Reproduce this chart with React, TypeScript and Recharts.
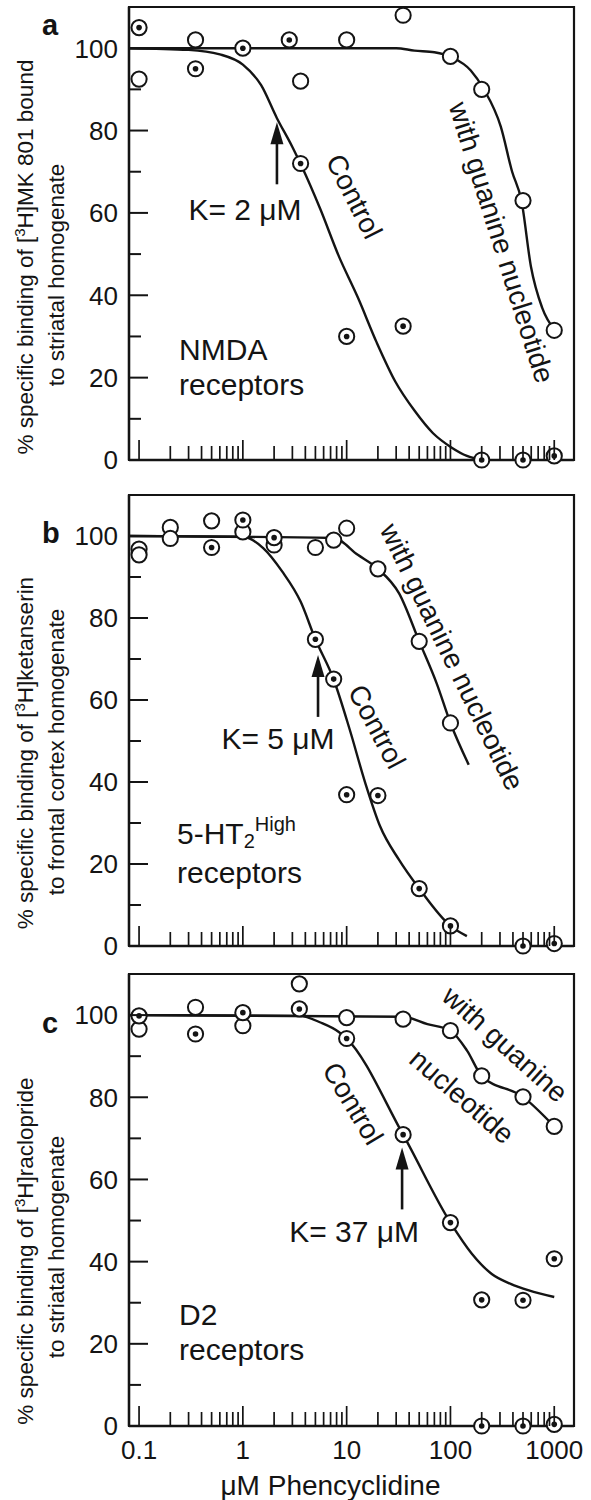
import React from 'react';
import { ComposedChart, Line, Scatter, XAxis, YAxis, ReferenceArea, ReferenceDot } from 'recharts';

const FONT = '"Liberation Sans", Arial, Helvetica, sans-serif';
const INK = '#141414';

// ---------- axes ----------
const X_DOMAIN: [number, number] = [0.08, 1550];
const X_TICKS = [0.1, 0.2, 0.3, 0.4, 0.5, 0.6, 0.7, 0.8, 0.9, 1, 2, 3, 4, 5, 6, 7, 8, 9, 10, 20, 30, 40, 50, 60, 70, 80, 90, 100, 200, 300, 400, 500, 600, 700, 800, 900, 1000];
const X_MAJOR = [0.1, 1, 10, 100, 1000];
const X_MAJOR_LABELS = ['0.1', '1', '10', '100', '1000'];
const Y_DOMAIN: [number, number] = [0, 110];
const Y_TICKS = [0, 10, 20, 30, 40, 50, 60, 70, 80, 90, 100];
const Y_LABELED = [0, 20, 40, 60, 80, 100];

// ---------- panel a : NMDA ----------
const aControlPts = [
  { x: 0.1, y: 105 }, { x: 0.35, y: 95 }, { x: 1, y: 100 }, { x: 2.8, y: 102 }, { x: 3.6, y: 72 },
  { x: 10, y: 30 }, { x: 35, y: 32.5 }, { x: 200, y: 0 }, { x: 500, y: 0 }, { x: 1000, y: 1 },
];
const aGuaninePts = [
  { x: 0.1, y: 92.5 }, { x: 0.35, y: 102 }, { x: 3.6, y: 92 }, { x: 10, y: 102 }, { x: 35, y: 108 },
  { x: 100, y: 98 }, { x: 200, y: 90 }, { x: 500, y: 63 }, { x: 1000, y: 31.5 },
];
const aControlCurve = [
  { x: 0.08, y: 100 }, { x: 0.3, y: 99.6 }, { x: 0.6, y: 98.5 }, { x: 1, y: 96 }, { x: 1.5, y: 91 },
  { x: 2.13, y: 83 }, { x: 3, y: 76 }, { x: 3.66, y: 71.5 }, { x: 5.56, y: 61 }, { x: 8.4, y: 49.5 },
  { x: 12.8, y: 39.5 }, { x: 19.5, y: 28.5 }, { x: 29.5, y: 19 }, { x: 45, y: 12 }, { x: 68, y: 6.5 },
  { x: 103, y: 3 }, { x: 144, y: 1 }, { x: 201, y: 0 },
];
const aGuanineCurve = [
  { x: 0.08, y: 100 }, { x: 30, y: 100 }, { x: 45, y: 99.4 }, { x: 70, y: 99 }, { x: 103, y: 97.8 },
  { x: 157, y: 94.6 }, { x: 210, y: 90 }, { x: 305, y: 81 }, { x: 393, y: 70 }, { x: 483, y: 63 },
  { x: 596, y: 47 }, { x: 764, y: 37 }, { x: 1020, y: 31.4 },
];

// ---------- panel b : 5-HT2 High ----------
const bControlPts = [
  { x: 0.5, y: 97.2 }, { x: 1, y: 103.9 }, { x: 2, y: 99.6 }, { x: 5, y: 74.8 }, { x: 7.5, y: 65.1 },
  { x: 10, y: 36.9 }, { x: 20, y: 36.7 }, { x: 50, y: 14 }, { x: 100, y: 4.9 }, { x: 500, y: 0 }, { x: 1000, y: 0.6 },
];
const bGuaninePts = [
  { x: 0.1, y: 96.8 }, { x: 0.1, y: 95.4 }, { x: 0.2, y: 102.1 }, { x: 0.2, y: 99.4 }, { x: 0.5, y: 103.7 },
  { x: 1, y: 101 }, { x: 2, y: 97.8 }, { x: 5, y: 97.2 }, { x: 7.5, y: 99 }, { x: 10, y: 101.9 },
  { x: 20, y: 92 }, { x: 50, y: 74.3 }, { x: 100, y: 54.4 },
];
const bControlCurve = [
  { x: 0.08, y: 100 }, { x: 1, y: 99.8 }, { x: 1.58, y: 97 }, { x: 2.4, y: 91.3 }, { x: 3.6, y: 84 },
  { x: 5, y: 74.8 }, { x: 7.5, y: 65 }, { x: 10.7, y: 52.8 }, { x: 15.1, y: 39.8 }, { x: 21, y: 29.2 },
  { x: 32, y: 21 }, { x: 50, y: 14 }, { x: 100, y: 4.9 }, { x: 144, y: 2.4 },
];
const bGuanineCurve = [
  { x: 0.08, y: 100 }, { x: 7.5, y: 99.5 }, { x: 12.8, y: 95.4 }, { x: 20, y: 92 }, { x: 32, y: 86 },
  { x: 50, y: 74.3 }, { x: 73.8, y: 64 }, { x: 100, y: 54.4 }, { x: 150, y: 44.2 },
];

// ---------- panel c : D2 ----------
const cControlPts = [
  { x: 0.1, y: 99.8 }, { x: 0.35, y: 95.4 }, { x: 1, y: 100.6 }, { x: 3.5, y: 101.5 }, { x: 10, y: 94.3 },
  { x: 35, y: 70.9 }, { x: 100, y: 49.5 }, { x: 200, y: 30.7 }, { x: 500, y: 30.6 }, { x: 1000, y: 40.7 },
  { x: 200, y: 0 }, { x: 500, y: 0 }, { x: 1000, y: 0.4 },
];
const cGuaninePts = [
  { x: 0.1, y: 96.6 }, { x: 0.35, y: 101.9 }, { x: 1, y: 97.4 }, { x: 3.5, y: 107.6 }, { x: 10, y: 99.4 },
  { x: 35, y: 99 }, { x: 100, y: 96.2 }, { x: 200, y: 85.2 }, { x: 500, y: 80.1 }, { x: 1000, y: 72.9 },
];
const cControlCurve = [
  { x: 0.08, y: 100 }, { x: 3.5, y: 99.8 }, { x: 5.6, y: 98.2 }, { x: 8.4, y: 95.9 }, { x: 10, y: 94.3 },
  { x: 35, y: 70.9 }, { x: 100, y: 49.5 }, { x: 160, y: 42 }, { x: 250, y: 37 }, { x: 380, y: 34.6 },
  { x: 570, y: 33 }, { x: 1000, y: 31.4 },
];
const cGuanineCurve = [
  { x: 0.08, y: 100 }, { x: 35, y: 99.6 }, { x: 60, y: 97.8 }, { x: 100, y: 96.2 }, { x: 145, y: 91.3 },
  { x: 200, y: 85.2 }, { x: 500, y: 80.1 }, { x: 1000, y: 72.9 },
];

// ---------- rendering helpers ----------
const makeXTick = (showLabel: boolean) => (p: any) => {
  const v = p.payload.value;
  const idx = X_MAJOR.findIndex((m) => Math.abs(m - v) < 1e-9);
  const len = idx >= 0 ? 20 : 14;
  return (
    <g>
      <line x1={p.x} y1={p.y} x2={p.x} y2={p.y - len} stroke={INK} strokeWidth={1.7} />
      {showLabel && idx >= 0 && (
        <text x={p.x} y={p.y + 33} textAnchor="middle" fontSize={26} fontFamily={FONT} fill={INK}>
          {X_MAJOR_LABELS[idx]}
        </text>
      )}
    </g>
  );
};

const YTick = (p: any) => {
  const v = p.payload.value;
  const labeled = Y_LABELED.indexOf(v) >= 0;
  const len = labeled ? 19 : 12;
  return (
    <g>
      {v !== 0 && <line x1={p.x} y1={p.y} x2={p.x + len} y2={p.y} stroke={INK} strokeWidth={2} />}
      {labeled && (
        <text x={p.x - 11} y={p.y} dy="0.36em" textAnchor="end" fontSize={26} fontFamily={FONT} fill={INK}>
          {v}
        </text>
      )}
    </g>
  );
};

const Marker = (filledDot: boolean) => (p: any) => (
  <g>
    <circle cx={p.cx} cy={p.cy} r={7.6} fill="#fff" stroke={INK} strokeWidth={2} />
    {filledDot && <circle cx={p.cx} cy={p.cy} r={2.8} fill={INK} />}
  </g>
);

const textShape = (content: React.ReactNode, angle = 0, anchor: 'start' | 'middle' = 'middle', size = 30, baseline: 'central' | 'auto' = 'central') => (p: any) => (
  <text
    x={p.cx}
    y={p.cy}
    transform={angle ? `rotate(${angle} ${p.cx} ${p.cy})` : undefined}
    textAnchor={anchor}
    dominantBaseline={baseline}
    fontSize={size}
    fontFamily={FONT}
    fill={INK}
  >
    {content}
  </text>
);

const arrowShape = (p: any) => (
  <g>
    <line x1={p.cx} y1={p.cy + 18} x2={p.cx} y2={p.cy + 62} stroke={INK} strokeWidth={2.6} />
    <polygon points={`${p.cx},${p.cy} ${p.cx - 6.5},${p.cy + 22} ${p.cx + 6.5},${p.cy + 22}`} fill={INK} />
  </g>
);

type Ann = { x: number; y: number; shape: any };

type PanelProps = {
  height: number;
  top: number;
  xAxisH: number;
  letter: string;
  letterBaseline: number;
  yLab1: React.ReactNode;
  yLab2: React.ReactNode;
  yLab1C: number;
  yLab2C: number;
  showX: boolean;
  controlCurve: any[];
  guanineCurve: any[];
  controlPts: any[];
  guaninePts: any[];
  anns: Ann[];
};

const Panel = (P: PanelProps) => (
  <ComposedChart width={591} height={P.height} margin={{ top: P.top, right: 17, bottom: 0, left: 0 }}>
    <XAxis
      dataKey="x"
      type="number"
      scale="log"
      domain={X_DOMAIN}
      ticks={X_TICKS}
      interval={0}
      height={P.xAxisH}
      tickSize={0}
      tickMargin={0}
      tickLine={false}
      axisLine={{ stroke: INK, strokeWidth: 2.4 }}
      tick={makeXTick(P.showX)}
      label={
        P.showX
          ? {
              content: (lp: any) => {
                const vb = lp.viewBox || { x: 129, y: 466, width: 445, height: 74 };
                return (
                  <text x={vb.x + vb.width / 2 - 21} y={vb.y + 69} textAnchor="middle" fontSize={28} fontFamily={FONT} fill={INK}>
                    μM Phencyclidine
                  </text>
                );
              },
            }
          : undefined
      }
    />
    <YAxis
      type="number"
      domain={Y_DOMAIN}
      ticks={Y_TICKS}
      interval={0}
      width={129}
      tickSize={0}
      tickMargin={0}
      tickLine={false}
      axisLine={{ stroke: INK, strokeWidth: 2.4 }}
      tick={YTick}
      label={{
        content: () => (
          <g fontFamily={FONT} fill={INK}>
            <text x={42} y={P.letterBaseline} fontSize={29} fontWeight="bold">{P.letter}</text>
            <text x={0} y={0} transform={`translate(33 ${P.yLab1C}) rotate(-90)`} textAnchor="middle" fontSize={22.5}>
              {P.yLab1}
            </text>
            <text x={0} y={0} transform={`translate(64 ${P.yLab2C}) rotate(-90)`} textAnchor="middle" fontSize={22.5}>
              {P.yLab2}
            </text>
          </g>
        ),
      }}
    />
    <ReferenceArea x1={X_DOMAIN[0]} x2={X_DOMAIN[1]} y1={Y_DOMAIN[0]} y2={Y_DOMAIN[1]} fill="none" stroke={INK} strokeWidth={2.2} ifOverflow="visible" />
    <Line data={P.controlCurve} dataKey="y" type="monotone" stroke={INK} strokeWidth={2.4} dot={false} activeDot={false} isAnimationActive={false} />
    <Line data={P.guanineCurve} dataKey="y" type="monotone" stroke={INK} strokeWidth={2.4} dot={false} activeDot={false} isAnimationActive={false} />
    <Scatter data={P.guaninePts} dataKey="y" shape={Marker(false)} isAnimationActive={false} />
    <Scatter data={P.controlPts} dataKey="y" shape={Marker(true)} isAnimationActive={false} />
    {P.anns.map((a, i) => (
      <ReferenceDot key={i} x={a.x} y={a.y} r={0} shape={a.shape} ifOverflow="visible" />
    ))}
  </ComposedChart>
);

const sup3 = (
  <>
    <tspan>% specific binding of [</tspan>
    <tspan fontSize={15} dy={-8}>3</tspan>
    <tspan dy={8}>H]</tspan>
  </>
);

export default function App() {
  return (
    <div style={{ position: 'absolute', left: 0, top: 0, width: 591, height: 1500, background: '#fff' }}>
      <Panel
        height={490}
        top={7}
        xAxisH={30}
        letter="a"
        letterBaseline={35}
        yLab1={<>{sup3}<tspan>MK 801 bound</tspan></>}
        yLab2="to striatal homogenate"
        yLab1C={257}
        yLab2C={275}
        showX={false}
        controlCurve={aControlCurve}
        guanineCurve={aGuanineCurve}
        controlPts={aControlPts}
        guaninePts={aGuaninePts}
        anns={[
          { x: 2.13, y: 82, shape: arrowShape },
          { x: 1.05, y: 60.9, shape: textShape('K= 2 μM') },
          { x: 11.8, y: 64, shape: textShape('Control', 63, 'middle', 28) },
          { x: 311, y: 52.8, shape: textShape('with guanine nucleotide', 72.5, 'middle', 28) },
          { x: 0.243, y: 24.3, shape: textShape('NMDA', 0, 'start', 30, 'auto') },
          { x: 0.243, y: 15.8, shape: textShape('receptors', 0, 'start', 30, 'auto') },
        ]}
      />
      <Panel
        height={470}
        top={5}
        xAxisH={14}
        letter="b"
        letterBaseline={53}
        yLab1={<>{sup3}<tspan>ketanserin</tspan></>}
        yLab2="to frontal cortex homogenate"
        yLab1C={263}
        yLab2C={262}
        showX={false}
        controlCurve={bControlCurve}
        guanineCurve={bGuanineCurve}
        controlPts={bControlPts}
        guaninePts={bGuaninePts}
        anns={[
          { x: 5.3, y: 71, shape: arrowShape },
          { x: 2.18, y: 50.6, shape: textShape('K= 5 μM') },
          { x: 19.5, y: 53.5, shape: textShape('Control', 62, 'middle', 28) },
          { x: 103.5, y: 70.5, shape: textShape('with guanine nucleotide', 64, 'middle', 28) },
          {
            x: 0.232,
            y: 25,
            shape: textShape(
              <>
                <tspan>5-HT</tspan>
                <tspan fontSize={20} dy={4}>2</tspan>
                <tspan fontSize={20} dy={-17}>High</tspan>
              </>,
              0,
              'start',
              30,
              'auto'
            ),
          },
          { x: 0.232, y: 15.4, shape: textShape('receptors', 0, 'start', 30, 'auto') },
        ]}
      />
      <Panel
        height={540}
        top={14}
        xAxisH={74}
        letter="c"
        letterBaseline={73}
        yLab1={<>{sup3}<tspan>raclopride</tspan></>}
        yLab2="to striatal homogenate"
        yLab1C={291}
        yLab2C={287}
        showX={true}
        controlCurve={cControlCurve}
        guanineCurve={cGuanineCurve}
        controlPts={cControlPts}
        guaninePts={cGuaninePts}
        anns={[
          { x: 34.2, y: 67.8, shape: arrowShape },
          { x: 11.8, y: 47.3, shape: textShape('K= 37 μM') },
          { x: 11.5, y: 78.5, shape: textShape('Control', 59, 'middle', 28) },
          { x: 336, y: 92.9, shape: textShape('with guanine', 42, 'middle', 28) },
          { x: 129, y: 80.2, shape: textShape('nucleotide', 41, 'middle', 28) },
          { x: 0.243, y: 24.5, shape: textShape('D2', 0, 'start', 30, 'auto') },
          { x: 0.243, y: 16, shape: textShape('receptors', 0, 'start', 30, 'auto') },
        ]}
      />
    </div>
  );
}
